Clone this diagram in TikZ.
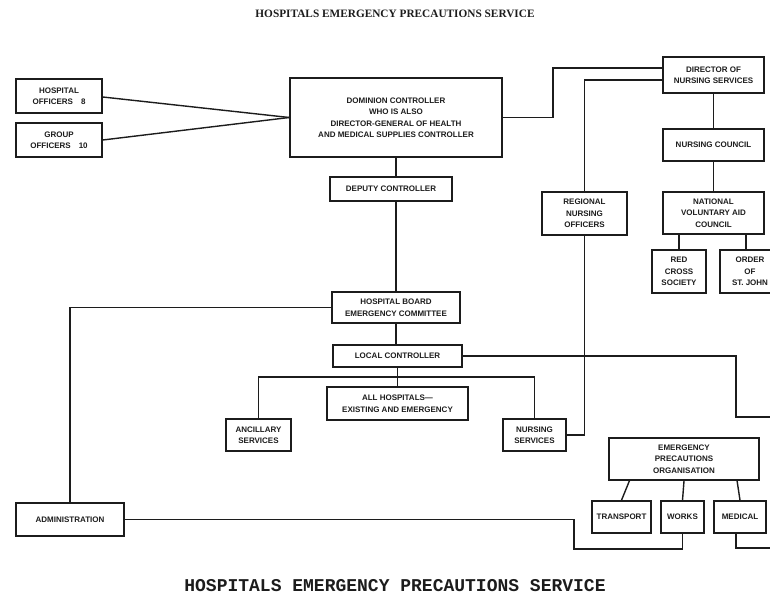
\documentclass[tikz,border=0pt]{standalone}
\usepackage{fontspec}
\setmainfont{Liberation Sans}
\newfontfamily\serifhead{Liberation Serif}
\newfontfamily\monohead{Liberation Mono}
\usetikzlibrary{positioning, calc}
\definecolor{ink}{RGB}{28,28,28}

\tikzset{
  unit/.style={draw=ink, line width=1.6pt, align=center, inner sep=0pt, text=ink,
    font=\fontsize{8}{11.5}\selectfont\bfseries},
  link/.style={draw=ink, line width=1.4pt},
}

\begin{document}
\begin{tikzpicture}[x=1pt, y=-1pt]
    \useasboundingbox (0,0) rectangle (770,596);
    \clip (0,0) rectangle (770,596);

    % Titles
    \node[text=ink, font=\serifhead\fontsize{11.3}{13}\selectfont\bfseries] (toptitle) at (395,14) {HOSPITALS EMERGENCY PRECAUTIONS SERVICE};
    \node[text=ink, font=\monohead\fontsize{18}{20}\selectfont\bfseries] (bottitle) at (395,586) {HOSPITALS EMERGENCY PRECAUTIONS SERVICE};

    % Left officers
    \node[unit, minimum width=86pt, minimum height=34pt] (hospoff) at (59,96) {HOSPITAL\\OFFICERS\quad 8};
    \node[unit, minimum width=86pt, minimum height=34pt] (groupoff) at (59,140) {GROUP\\OFFICERS\quad 10};

    % Central column
    \node[unit, minimum width=212pt, minimum height=79pt] (dominion) at (396,117.5) {DOMINION CONTROLLER\\WHO IS ALSO\\DIRECTOR-GENERAL OF HEALTH\\AND MEDICAL SUPPLIES CONTROLLER};
    \node[unit, minimum width=122pt, minimum height=24pt] (deputy) at (391,189) {DEPUTY CONTROLLER};
    \node[unit, minimum width=128pt, minimum height=31pt] (board) at (396,307.5) {HOSPITAL BOARD\\EMERGENCY COMMITTEE};
    \node[unit, minimum width=129pt, minimum height=22pt] (local) at (397.5,356) {LOCAL CONTROLLER};
    \node[unit, minimum width=141pt, minimum height=33pt] (allhosp) at (397.5,403.5) {ALL HOSPITALS---\\EXISTING AND EMERGENCY};
    \node[unit, minimum width=65pt, minimum height=32pt] (ancillary) at (258.5,435) {ANCILLARY\\SERVICES};
    \node[unit, minimum width=63pt, minimum height=32pt] (nursing) at (534.5,435) {NURSING\\SERVICES};
    \node[unit, minimum width=108pt, minimum height=33pt] (admin) at (70,519.5) {ADMINISTRATION};

    % Nursing column
    \node[unit, minimum width=101pt, minimum height=36pt] (director) at (713.5,75) {DIRECTOR OF\\NURSING SERVICES};
    \node[unit, minimum width=101pt, minimum height=32pt] (council) at (713.5,145) {NURSING COUNCIL};
    \node[unit, minimum width=101pt, minimum height=42pt] (nvac) at (713.5,213) {NATIONAL\\VOLUNTARY AID\\COUNCIL};
    \node[unit, minimum width=54pt, minimum height=43pt] (redcross) at (679,271.5) {RED\\CROSS\\SOCIETY};
    \node[unit, minimum width=60pt, minimum height=43pt] (stjohn) at (750,271.5) {ORDER\\OF\\ST. JOHN};
    \node[unit, minimum width=85pt, minimum height=43pt] (regional) at (584.5,213.5) {REGIONAL\\NURSING\\OFFICERS};

    % Emergency precautions group
    \node[unit, minimum width=150pt, minimum height=42pt] (epo) at (684,459) {EMERGENCY\\PRECAUTIONS\\ORGANISATION};
    \node[unit, minimum width=59pt, minimum height=32pt] (transport) at (621.5,517) {TRANSPORT};
    \node[unit, minimum width=43pt, minimum height=32pt] (works) at (682.5,517) {WORKS};
    \node[unit, minimum width=52pt, minimum height=32pt] (medical) at (740,517) {MEDICAL};

    % Free ends and bends
    \coordinate (bus) at (397,377);
    \coordinate (admindip) at (574,549);
    \coordinate (localbend) at (736,417);
    \coordinate (localend) at (775,417);
    \coordinate (medend) at (775,548);

    % Officers to dominion controller
    \draw[link] ([yshift=-1pt]hospoff.east) -- (dominion.west);
    \draw[link] (groupoff.east) -- (dominion.west);

    % Down the central column
    \draw[link] (dominion.south) -- (dominion.south |- deputy.north);
    \draw[link] (board.north) -- (board.north |- deputy.south);
    \draw[link] (board.south) -- (board.south |- local.north);
    \draw[link] (local.south) -- (allhosp.north);
    \draw[link] (ancillary.north) |- (bus) -| (nursing.north);
    \draw[link] (board.west) -| (admin.north);
    \draw[link] (admin.east) -| (admindip) -| (works.south);
    \draw[link] (local.east) -| (localbend) -- (localend);

    % Nursing links
    \draw[link] (dominion.east) -- ++(50,0) |- ([yshift=7pt]director.west);
    \draw[link] ([yshift=-5pt]director.west) -| (regional.north);
    \draw[link] (regional.south) |- (nursing.east);
    \draw[link] (director.south) -- (council.north);
    \draw[link] (council.south) -- (nvac.north);
    \draw[link] (redcross.north) -- (redcross.north |- nvac.south);
    \draw[link] ([xshift=-4pt]stjohn.north) -- ([xshift=-4pt]stjohn.north |- nvac.south);

    % Emergency precautions links
    \draw[link] ($(epo.south west)!0.14!(epo.south east)$) -- (transport.north);
    \draw[link] (epo.south) -- (works.north);
    \draw[link] ($(epo.south west)!0.85!(epo.south east)$) -- (medical.north);
    \draw[link] ([xshift=-4pt]medical.south) |- (medend);
\end{tikzpicture}
\end{document}
